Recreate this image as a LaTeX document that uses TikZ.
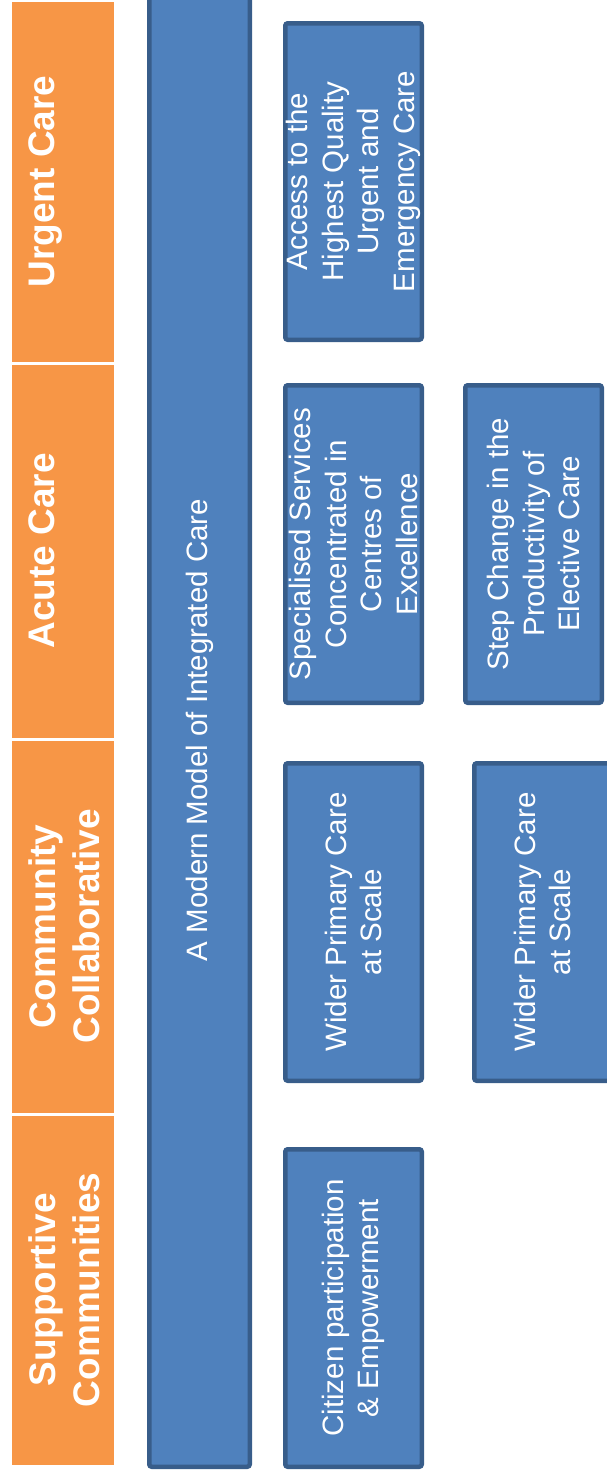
\documentclass[tikz,border=0pt]{standalone}
\usepackage{fontspec}
\setmainfont{Liberation Sans}
\definecolor{orng}{HTML}{F79646}
\definecolor{bfill}{HTML}{4F81BD}
\definecolor{bline}{HTML}{385D8A}
\tikzset{
  seg/.style={fill=orng, draw=white, line width=1pt, minimum width=103pt, inner sep=0pt},
  seglabel/.style={rotate=90, anchor=north, text=white, inner sep=0pt, align=center,
    font=\fontsize{37}{44}\selectfont\bfseries},
  bbox/.style={rotate=90, fill=bfill, draw=bline, line width=4.5pt, rounded corners=2.5pt,
    text=white, align=center, inner sep=0pt, font=\fontsize{29.5}{35.5}\selectfont},
}
\begin{document}
\begin{tikzpicture}[x=1pt, y=-1pt]
\useasboundingbox (0,0) rectangle (607,1476);
% orange column
\node[seg, minimum height=361pt] (s1) at (62.5,181.5) {};
\node[seg, minimum height=374pt] (s2) at (62.5,551) {};
\node[seg, minimum height=373pt] (s3) at (62.5,926.5) {};
\node[seg, minimum height=350pt] (s4) at (62.5,1290) {};
\node[seglabel] (l1) at (28,181.5) {Urgent Care};
\node[seglabel] (l2) at (28,551) {Acute Care};
\node[seglabel] (l3) at (28,926.5) {Community\\Collaborative};
\node[seglabel] (l4) at (28,1290) {Supportive\\Communities};
% main bar
\node[bbox, minimum width=1473.5pt, minimum height=100.5pt] (bar) at (199.5,730)
  {A Modern Model of Integrated Care};
% boxes
\node[bbox, minimum width=316.5pt, minimum height=136.5pt] (urg) at (353.5,181.5)
  {Access to the\\Highest Quality\\Urgent and\\Emergency Care};
\node[bbox, minimum width=317.5pt, minimum height=136.5pt] (spec) at (353.5,544)
  {Specialised Services\\Concentrated in\\Centres of\\Excellence};
\node[bbox, minimum width=317.5pt, minimum height=136.5pt] (step) at (533.5,544)
  {Step Change in the\\Productivity of\\Elective Care};
\node[bbox, minimum width=317.5pt, minimum height=136.5pt] (wid1) at (353.5,922)
  {Wider Primary Care\\at Scale};
\node[bbox, minimum width=317.5pt, minimum height=136.5pt] (wid2) at (542.5,922)
  {Wider Primary Care\\at Scale};
\node[bbox, minimum width=317.5pt, minimum height=136.5pt] (cit) at (353.5,1308)
  {Citizen participation\\\& Empowerment};
\end{tikzpicture}
\end{document}
